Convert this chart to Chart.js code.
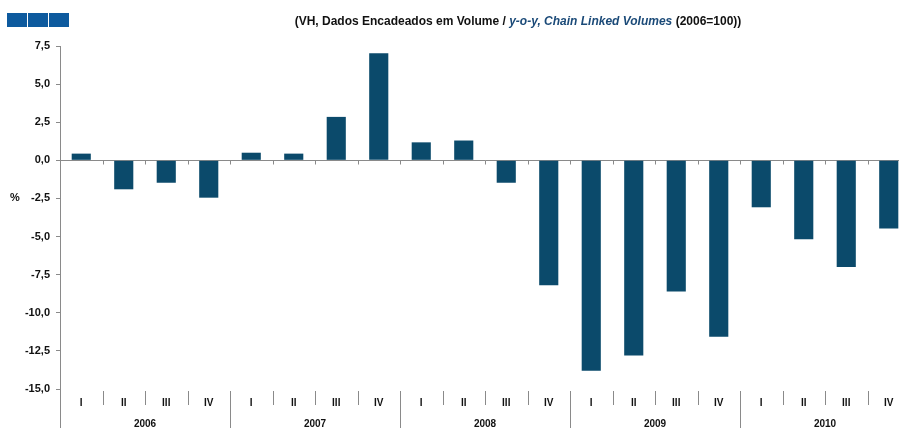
<!DOCTYPE html>
<html>
<head>
<meta charset="utf-8">
<script src="https://cdn.jsdelivr.net/npm/chart.js@4.4.0/dist/chart.umd.min.js"></script>
<style>
  html, body { margin: 0; padding: 0; background: #fff; overflow: hidden; }
  #wrap { width: 912px; height: 428px; }
</style>
</head>
<body>
<div id="wrap"><canvas id="chart"></canvas></div>
<script>
// quarterly y-o-y change, %
const quarters = ['I', 'II', 'III', 'IV'];
const years = ['2006', '2007', '2008', '2009', '2010'];
const values = [
  0.44, -1.9, -1.47, -2.45,
  0.5, 0.44, 2.85, 7.03,
  1.18, 1.3, -1.47, -8.2,
  -13.8, -12.8, -8.6, -11.58,
  -3.08, -5.18, -7.0, -4.47
];
const yTicks = [7.5, 5, 2.5, 0, -2.5, -5, -7.5, -10, -12.5, -15];

const labels = [];
years.forEach(y => quarters.forEach(q => labels.push(q + ' ' + y)));

const axisGray = '#8a8a8a';

// title, squares, % label, custom quarter/year axis
const decor = {
  id: 'decor',
  afterDraw(chart) {
    const ctx = chart.ctx;
    const area = chart.chartArea;
    const x = chart.scales.x;
    const y = chart.scales.y;
    ctx.save();

    // blue squares top-left
    ctx.fillStyle = '#0d5a9e';
    [7, 28, 49].forEach(sx => ctx.fillRect(sx, 13, 20, 14));

    // title
    const parts = [
      ['(VH, Dados Encadeados em Volume / ', 'bold', '#111'],
      ['y-o-y, Chain Linked Volumes', 'italic bold', '#1b4a78'],
      [' (2006=100))', 'bold', '#111']
    ];
    const tf = ' 12px "Liberation Sans", Arial';
    let total = 0;
    parts.forEach(p => { ctx.font = p[1] + tf; total += ctx.measureText(p[0]).width; });
    let tx = 518 - total / 2;
    ctx.textBaseline = 'middle';
    ctx.textAlign = 'left';
    parts.forEach(p => {
      ctx.font = p[1] + tf;
      ctx.fillStyle = p[2];
      ctx.fillText(p[0], tx, 22);
      tx += ctx.measureText(p[0]).width;
    });

    // % label
    ctx.font = 'bold 11px "Liberation Sans", Arial';
    ctx.fillStyle = '#111';
    ctx.fillText('%', 10, y.getPixelForValue(-2.5));

    ctx.strokeStyle = axisGray;
    ctx.lineWidth = 1;

    // y axis continues down
    ctx.beginPath();
    ctx.moveTo(area.left + 0.5, area.bottom);
    ctx.lineTo(area.left + 0.5, chart.height);
    ctx.stroke();

    const zero = Math.round(y.getPixelForValue(0)) + 0.5;
    const n = labels.length;
    const half = (x.getPixelForValue(1) - x.getPixelForValue(0)) / 2;
    for (let i = 0; i < n; i++) {
      const bx = Math.round(x.getPixelForValue(i) + half) + 0.5;
      if (i < n - 1) {
        // small ticks under zero line
        ctx.beginPath();
        ctx.moveTo(bx, zero);
        ctx.lineTo(bx, zero + 4);
        ctx.stroke();
        // separators
        const yearEnd = (i % 4) === 3;
        ctx.beginPath();
        ctx.moveTo(bx, area.bottom + 2);
        ctx.lineTo(bx, yearEnd ? chart.height : area.bottom + 16);
        ctx.stroke();
      }
      ctx.textAlign = 'center';
      ctx.font = 'bold 10px "Liberation Sans", Arial';
      ctx.fillStyle = '#111';
      ctx.fillText(quarters[i % 4], x.getPixelForValue(i), area.bottom + 14);
    }
    years.forEach((yr, k) => {
      const cx = (x.getPixelForValue(k * 4 + 1) + x.getPixelForValue(k * 4 + 2)) / 2;
      ctx.font = 'bold 10px "Liberation Sans", Arial';
      ctx.fillText(yr, cx, area.bottom + 35);
    });
    ctx.restore();
  }
};

new Chart(document.getElementById('chart'), {
  type: 'bar',
  data: {
    labels: labels,
    datasets: [{
      data: values,
      backgroundColor: '#0b4a6b',
      borderWidth: 0,
      barPercentage: 0.9,
      categoryPercentage: 0.5
    }]
  },
  options: {
    responsive: true,
    maintainAspectRatio: false,
    animation: false,
    layout: { padding: { top: 46, bottom: 39, right: 2, left: 0 } },
    plugins: { legend: { display: false }, tooltip: { enabled: false } },
    scales: {
      x: { display: false, offset: true },
      y: {
        min: -15,
        max: 7.5,
        afterFit(scale) { scale.width = 60; },
        afterBuildTicks(scale) { scale.ticks = yTicks.map(v => ({ value: v })); },
        border: { display: true, color: axisGray },
        grid: {
          color: c => (c.tick && c.tick.value === 0) ? axisGray : 'transparent',
          tickColor: axisGray,
          tickLength: 4,
          drawTicks: true
        },
        ticks: {
          padding: 6,
          color: '#111',
          font: { family: '"Liberation Sans", Arial', size: 11, weight: 'bold' },
          callback: v => v.toFixed(1).replace('.', ',')
        }
      }
    }
  },
  plugins: [decor]
});
</script>
</body>
</html>
